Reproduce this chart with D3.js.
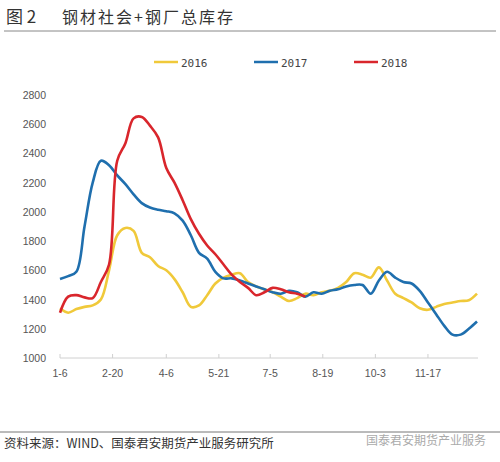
<!DOCTYPE html><html><head><meta charset="utf-8">
<script src="https://cdn.jsdelivr.net/npm/d3@7"></script>
<style>body{margin:0;background:#fff}svg{display:block}</style></head><body>
<svg id="c" width="500" height="462"></svg>
<script>
const xTicks=["1-6","2-20","4-6","5-21","7-5","8-19","10-3","11-17"];
const xTickWeeks=[0,6.43,13,19.43,25.71,32.14,38.57,45];
const yTicks=[1000,1200,1400,1600,1800,2000,2200,2400,2600,2800];
const s2016=[1340,1310,1335,1350,1360,1400,1600,1840,1890,1870,1720,1690,1630,1600,1540,1450,1350,1360,1430,1510,1550,1570,1580,1520,1490,1470,1450,1420,1390,1410,1440,1430,1450,1460,1480,1520,1580,1570,1550,1620,1530,1440,1410,1380,1340,1330,1350,1370,1380,1390,1395,1440];
const s2017=[1540,1560,1590,1900,2200,2350,2320,2250,2190,2120,2060,2030,2015,2005,1990,1940,1840,1720,1680,1590,1545,1545,1530,1510,1490,1470,1450,1440,1460,1450,1420,1450,1440,1460,1470,1490,1500,1500,1440,1530,1590,1550,1520,1510,1460,1380,1300,1220,1160,1160,1200,1250];
const s2018=[1310,1420,1430,1415,1410,1520,1640,2350,2470,2640,2650,2590,2510,2300,2200,2080,1950,1850,1770,1710,1640,1570,1520,1480,1430,1450,1480,1470,1450,1440,1420];
const series=[{name:"2016",data:s2016,color:"#F0C93A"},{name:"2017",data:s2017,color:"#1F6FAE"},{name:"2018",data:s2018,color:"#D9262C"}];
const svg=d3.select("#c");
const x=d3.scaleLinear().domain([0,51]).range([60,477]);
const y=d3.scaleLinear().domain([1000,2800]).range([358,95]);
const serif="'Noto Sans CJK SC',serif";
svg.append("text").attr("x",6).attr("y",23).attr("font-family",serif).attr("font-size",17).attr("fill","#333").text("图 2");
svg.append("text").attr("x",62).attr("y",23).attr("font-family",serif).attr("font-size",16).attr("fill","#333").attr("letter-spacing",2).text("钢材社会+钢厂总库存");
svg.append("line").attr("x1",4).attr("x2",496).attr("y1",31).attr("y2",31).attr("stroke","#888");
series.forEach((s,i)=>{const lx=154+i*100;
 svg.append("line").attr("x1",lx).attr("x2",lx+24).attr("y1",62).attr("y2",62).attr("stroke",s.color).attr("stroke-width",2.5);
 svg.append("text").attr("x",lx+27).attr("y",67).attr("font-family","'DejaVu Sans Mono',monospace").attr("font-size",11).attr("fill","#444").text(s.name);});
yTicks.forEach(v=>svg.append("text").attr("x",46).attr("y",y(v)+4).attr("text-anchor","end").attr("font-family","Arial,'Liberation Sans'").attr("font-size",10.5).attr("fill","#555").text(v));
svg.append("line").attr("x1",60).attr("x2",478).attr("y1",358).attr("y2",358).attr("stroke","#d0d0d0");
xTickWeeks.forEach((w,i)=>{svg.append("line").attr("x1",x(w)).attr("x2",x(w)).attr("y1",358).attr("y2",354).attr("stroke","#d0d0d0");
 svg.append("text").attr("x",x(w)).attr("y",377).attr("text-anchor","middle").attr("font-family","Arial,'Liberation Sans'").attr("font-size",10.5).attr("fill","#555").text(xTicks[i]);});
const line=d3.line().x((d,i)=>x(i)).y(d=>y(d)).curve(d3.curveCatmullRom.alpha(0.5));
series.forEach(s=>svg.append("path").attr("d",line(s.data)).attr("fill","none").attr("stroke",s.color).attr("stroke-width",2.6));
svg.append("line").attr("x1",0).attr("x2",500).attr("y1",432).attr("y2",432).attr("stroke","#777");
svg.append("text").attr("x",4).attr("y",448).attr("font-family",serif).attr("font-size",12.5).attr("fill","#333").text("资料来源：WIND、国泰君安期货产业服务研究所");
svg.append("text").attr("x",366).attr("y",445).attr("font-family","'Noto Sans CJK SC'").attr("font-size",12).attr("fill","#aaa").text("国泰君安期货产业服务");
</script></body></html>
